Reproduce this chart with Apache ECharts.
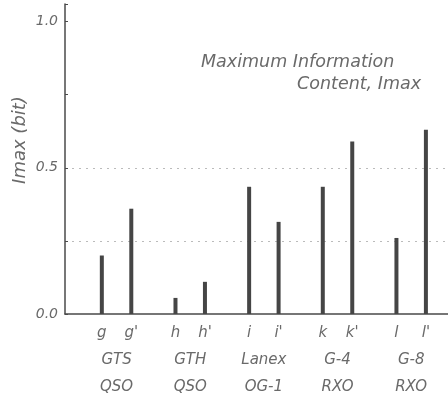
<!DOCTYPE html>
<html><head><meta charset="utf-8">
<script src="https://cdn.jsdelivr.net/npm/echarts@6/dist/echarts.min.js"></script>
<style>html,body{margin:0;padding:0;background:#fff}#c{width:448px;height:401px}</style>
</head><body><div id="c"></div>
<script>
// Data
const barLabels = ['g', "g'", 'h', "h'", 'i', "i'", 'k', "k'", 'l', "l'"];
const barValues = [0.20, 0.36, 0.055, 0.11, 0.435, 0.315, 0.435, 0.59, 0.26, 0.63];
const groupNames = ['GTS\nQSO', 'GTH\nQSO', 'Lanex\nOG-1', 'G-4\nRXO', 'G-8\nRXO'];
const yTickLabels = { '0': '0.0', '0.5': '0.5', '1': '1.0' };

// Build category slots: padding, then [bar, group-mid, bar] per group
const cats = [], vals = [], labels = [];
function pad(n){ for(let i=0;i<n;i++){ cats.push('p'+cats.length); vals.push('-'); labels.push(''); } }
pad(2);
groupNames.forEach((gname, gi) => {
  if (gi > 0) pad(2);
  cats.push('b'+(2*gi)); vals.push(barValues[2*gi]); labels.push(barLabels[2*gi]);
  cats.push('m'+gi); vals.push('-'); labels.push('\n' + gname);
  cats.push('b'+(2*gi+1)); vals.push(barValues[2*gi+1]); labels.push(barLabels[2*gi+1]);
});
pad(1);

const txt = '#6a6a6a';
const font = 'DejaVu Sans';
const chart = echarts.init(document.getElementById('c'));
chart.setOption({
  animation: false,
  grid: { left: 65, right: 0, top: 4, bottom: 87 },
  title: [
    { text: 'Maximum Information', left: 196, top: 48,
      textStyle: { fontFamily: font, fontStyle: 'italic', fontWeight: 'normal', fontSize: 17.5, color: txt } },
    { text: 'Content, Imax', left: 292, top: 70,
      textStyle: { fontFamily: font, fontStyle: 'italic', fontWeight: 'normal', fontSize: 17.5, color: txt } }
  ],
  graphic: [{
    type: 'text', x: 20, y: 140, rotation: Math.PI / 2,
    style: { text: 'Imax (bit)', fontFamily: font, fontStyle: 'italic', fontSize: 18, fill: txt,
             align: 'center', verticalAlign: 'middle' }
  }],
  xAxis: {
    type: 'category', data: cats, boundaryGap: true,
    axisLine: { lineStyle: { color: '#4a4a4a', width: 1.5 } },
    axisTick: { show: false },
    axisLabel: {
      interval: 0, margin: 6, lineHeight: 27, verticalAlign: 'top',
      fontFamily: font, fontStyle: 'italic', fontSize: 15, color: txt,
      formatter: (v, i) => labels[i]
    }
  },
  yAxis: {
    type: 'value', min: 0, max: 1.06, interval: 0.25,
    axisLine: { show: true, lineStyle: { color: '#4a4a4a', width: 1.5 } },
    axisTick: { show: true, inside: true, length: 3, lineStyle: { color: '#4a4a4a' } },
    axisLabel: {
      margin: 7, fontFamily: font, fontStyle: 'italic', fontSize: 14, color: txt,
      formatter: v => { const k = String(+v.toFixed(2)); return yTickLabels[k] !== undefined ? yTickLabels[k] : ''; }
    },
    splitLine: { show: true, lineStyle: { type: [2, 5], width: 1,
      color: ['rgba(0,0,0,0)', '#bbbbbb', '#bbbbbb', 'rgba(0,0,0,0)', 'rgba(0,0,0,0)'] } }
  },
  series: [{
    type: 'bar', data: vals, barWidth: 4,
    itemStyle: { color: '#454545' }
  }]
});
</script></body></html>
